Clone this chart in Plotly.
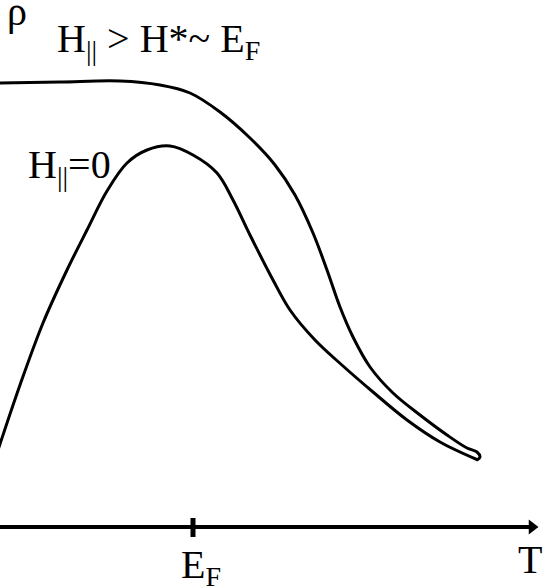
import plotly.graph_objects as go

# Schematic resistivity curves rho(T); T in arbitrary units, rho in arbitrary units
# Curve for H_par > H* ~ E_F
T_high = [0, 60, 120, 160, 190, 220, 250, 275, 295, 313, 327, 340, 353, 370, 393, 420,
          447, 467, 477, 480, 477]
rho_high = [444, 445, 446, 442, 434, 415, 389, 362, 332, 294, 257, 220, 190, 160, 134, 112,
            92, 79, 75, 70, 67]

# Curve for H_par = 0
T_zero = [-3, 0, 20, 43, 67, 87, 107, 127, 147, 170, 193, 217, 233, 250, 273, 290, 315,
          343, 373, 407, 440, 478]
rho_zero = [74, 83, 142, 204, 257, 297, 336, 364, 377, 381, 372, 354, 327, 292, 247, 217, 187,
            161, 135, 107, 85, 67]

E_F = 193
T_axis_end = 538

FONT = "'Liberation Serif', 'Times New Roman', Times, serif"

fig = go.Figure()
for xs, ys in ((T_high, rho_high), (T_zero, rho_zero)):
    fig.add_trace(go.Scatter(x=xs, y=ys, mode="lines",
                             line=dict(color="black", width=3, shape="spline", smoothing=1.0),
                             hoverinfo="skip", showlegend=False))
# arrowhead of T axis
fig.add_trace(go.Scatter(x=[T_axis_end - 6], y=[0], mode="markers",
                         marker=dict(symbol="triangle-right", size=13, color="black"),
                         hoverinfo="skip", showlegend=False))

# T axis line and E_F tick
fig.add_shape(type="line", x0=-5, x1=T_axis_end - 8, y0=0, y1=0,
              line=dict(color="black", width=4))
fig.add_shape(type="line", x0=E_F, x1=E_F, y0=-10, y1=9,
              line=dict(color="black", width=5))

ann_font = dict(family=FONT, size=40, color="black")
fig.add_annotation(x=E_F + 8, y=-40, text="E<sub>F</sub>", showarrow=False,
                   font=ann_font, xanchor="center", yanchor="middle")
fig.add_annotation(x=530, y=-32, text="T", showarrow=False,
                   font=ann_font, xanchor="center", yanchor="middle")
fig.add_annotation(x=17, y=516, text="ρ", showarrow=False,
                   font=ann_font, xanchor="center", yanchor="middle")
fig.add_annotation(x=55, y=486, text="H<sub>||</sub> &gt; H*~ E<sub>F</sub>", showarrow=False,
                   font=ann_font, xanchor="left", yanchor="middle")
fig.add_annotation(x=26, y=360, text="H<sub>||</sub>=0", showarrow=False,
                   font=ann_font, xanchor="left", yanchor="middle")

fig.update_layout(
    width=545, height=586,
    margin=dict(l=0, r=0, t=0, b=0),
    paper_bgcolor="white", plot_bgcolor="white",
    xaxis=dict(range=[0, 545], visible=False, fixedrange=True),
    yaxis=dict(range=[-59, 527], visible=False, fixedrange=True),
)
fig.write_html("out.html", config={"displayModeBar": False},
               post_script="document.body.style.margin='0';document.body.style.overflow='hidden';")
